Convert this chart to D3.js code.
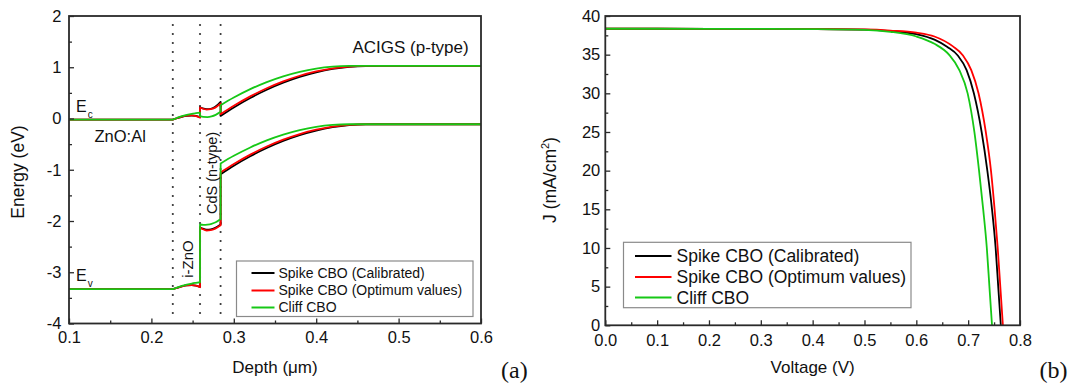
<!DOCTYPE html>
<html>
<head>
<meta charset="utf-8">
<script src="https://cdn.jsdelivr.net/npm/d3@7"></script>
<style>
  body { margin: 0; background: #fff; }
  svg { display: block; font-family: "Liberation Sans", Arial, sans-serif; }
</style>
</head>
<body>
<svg id="fig" width="1073" height="385"></svg>
<script>
// ---------- shared legend ----------
const seriesNames  = ["Spike CBO (Calibrated)", "Spike CBO (Optimum values)", "Cliff CBO"];
const seriesColors = ["#000000", "#ff0000", "#16c816"];

// ---------- (a) band diagram ----------
const depthTicks   = [0.1, 0.2, 0.3, 0.4, 0.5, 0.6];
const depthLabels  = ["0.1", "0.2", "0.3", "0.4", "0.5", "0.6"];
const depthMinor   = [0.15, 0.25, 0.35, 0.45, 0.55];
const energyTicks  = [-4, -3, -2, -1, 0, 1, 2];
const energyLabels = ["-4", "-3", "-2", "-1", "0", "1", "2"];
const energyMinor  = [-3.5, -2.5, -1.5, -0.5, 0.5, 1.5];
const interfaceDepths = [0.226, 0.259, 0.284];   // ZnO:Al | i-ZnO | CdS | ACIGS

// Each band edge is a list of layer segments: ZnO:Al, i-ZnO, CdS, ACIGS  ([depth µm, energy eV])
const ecCalibrated = [
  [[0.1, -0.02], [0.226, -0.02]],
  [[0.226, -0.02], [0.231, 0.005], [0.237, 0.033], [0.243, 0.052], [0.249, 0.058], [0.254, 0.05], [0.259, 0.025]],
  [[0.259, 0.22], [0.2625, 0.197], [0.267, 0.183], [0.272, 0.19], [0.2775, 0.228], [0.284, 0.325]],
  [[0.284, 0.05], [0.30, 0.216], [0.32, 0.401], [0.34, 0.562], [0.36, 0.699], [0.38, 0.812], [0.40, 0.901],
   [0.42, 0.967], [0.44, 1.008], [0.46, 1.024], [0.48, 1.025], [0.6, 1.025]]
];
const evCalibrated = [
  [[0.1, -3.33], [0.226, -3.33]],
  [[0.226, -3.33], [0.231, -3.305], [0.237, -3.277], [0.243, -3.258], [0.249, -3.252], [0.254, -3.26], [0.259, -3.285]],
  [[0.259, -2.12], [0.2625, -2.15], [0.267, -2.17], [0.272, -2.165], [0.2775, -2.135], [0.284, -2.07]],
  [[0.284, -1.087], [0.30, -0.921], [0.32, -0.736], [0.34, -0.575], [0.36, -0.438], [0.38, -0.325], [0.40, -0.236],
   [0.42, -0.17], [0.44, -0.129], [0.46, -0.113], [0.48, -0.112], [0.6, -0.112]]
];
const ecOptimum = [
  [[0.1, -0.02], [0.226, -0.02]],
  [[0.226, -0.02], [0.231, 0.005], [0.237, 0.035], [0.243, 0.055], [0.249, 0.06], [0.254, 0.048], [0.259, 0.018]],
  [[0.259, 0.215], [0.2625, 0.19], [0.267, 0.175], [0.272, 0.181], [0.2775, 0.212], [0.284, 0.295]],
  [[0.284, 0.085], [0.30, 0.249], [0.32, 0.432], [0.34, 0.59], [0.36, 0.724], [0.38, 0.834], [0.40, 0.918],
   [0.42, 0.978], [0.44, 1.014], [0.46, 1.025], [0.6, 1.025]]
];
const evOptimum = [
  [[0.1, -3.33], [0.226, -3.33]],
  [[0.226, -3.33], [0.231, -3.305], [0.237, -3.275], [0.243, -3.255], [0.249, -3.25], [0.254, -3.262], [0.259, -3.292]],
  [[0.259, -2.125], [0.2625, -2.16], [0.267, -2.185], [0.272, -2.18], [0.2775, -2.15], [0.284, -2.085]],
  [[0.284, -1.052], [0.30, -0.888], [0.32, -0.705], [0.34, -0.547], [0.36, -0.413], [0.38, -0.303], [0.40, -0.219],
   [0.42, -0.159], [0.44, -0.123], [0.46, -0.112], [0.6, -0.112]]
];
const ecCliff = [
  [[0.1, -0.02], [0.226, -0.02]],
  [[0.226, -0.02], [0.231, 0.01], [0.237, 0.045], [0.243, 0.07], [0.249, 0.09], [0.254, 0.103], [0.259, 0.115]],
  [[0.259, 0.045], [0.263, 0.03], [0.268, 0.028], [0.273, 0.04], [0.278, 0.07], [0.284, 0.13]],
  [[0.284, 0.26], [0.30, 0.409], [0.32, 0.572], [0.34, 0.711], [0.36, 0.824], [0.38, 0.912], [0.40, 0.975],
   [0.42, 1.012], [0.44, 1.025], [0.6, 1.025]]
];
const evCliff = [
  [[0.1, -3.33], [0.226, -3.33]],
  [[0.226, -3.33], [0.231, -3.30], [0.237, -3.265], [0.243, -3.24], [0.249, -3.22], [0.254, -3.207], [0.259, -3.195]],
  [[0.259, -2.065], [0.263, -2.075], [0.268, -2.07], [0.273, -2.055], [0.278, -2.025], [0.284, -1.96]],
  [[0.284, -0.877], [0.30, -0.728], [0.32, -0.565], [0.34, -0.426], [0.36, -0.313], [0.38, -0.225], [0.40, -0.162],
   [0.42, -0.125], [0.44, -0.112], [0.6, -0.112]]
];

// ---------- (b) J-V curves ----------
const voltageTicks  = [0, 0.1, 0.2, 0.3, 0.4, 0.5, 0.6, 0.7, 0.8];
const voltageLabels = ["0.0", "0.1", "0.2", "0.3", "0.4", "0.5", "0.6", "0.7", "0.8"];
const voltageMinor  = [0.05, 0.15, 0.25, 0.35, 0.45, 0.55, 0.65, 0.75];
const currentTicks  = [0, 5, 10, 15, 20, 25, 30, 35, 40];
const currentLabels = ["0", "5", "10", "15", "20", "25", "30", "35", "40"];
const currentMinor  = [2.5, 7.5, 12.5, 17.5, 22.5, 27.5, 32.5, 37.5];

// [voltage V, current density mA/cm²]
const jvCalibrated = [[0, 38.35], [0.1, 38.35], [0.2, 38.34], [0.3, 38.33], [0.4, 38.31], [0.5, 38.24], [0.55, 38.05],
  [0.6, 37.65], [0.635, 36.95], [0.66, 36.0], [0.68, 34.9], [0.697, 33.0], [0.711, 30.0], [0.726, 25.0],
  [0.737, 20.0], [0.746, 15.0], [0.753, 10.0], [0.758, 5.0], [0.763, 0]];
const jvOptimum = [[0, 38.35], [0.1, 38.35], [0.2, 38.34], [0.3, 38.33], [0.4, 38.32], [0.5, 38.26], [0.55, 38.12],
  [0.6, 37.85], [0.635, 37.35], [0.67, 36.1], [0.69, 34.9], [0.706, 33.0], [0.72, 30.0], [0.734, 25.0],
  [0.744, 20.0], [0.751, 15.0], [0.757, 10.0], [0.762, 5.0], [0.767, 0]];
const jvCliff = [[0, 38.35], [0.1, 38.35], [0.2, 38.34], [0.3, 38.33], [0.4, 38.3], [0.5, 38.2], [0.55, 37.95],
  [0.6, 37.35], [0.635, 36.4], [0.663, 35.0], [0.683, 33.0], [0.699, 30.0], [0.712, 25.0], [0.721, 20.0],
  [0.729, 15.0], [0.736, 10.0], [0.741, 5.0], [0.746, 0]];

// ---------- drawing ----------
const svg = d3.select("#fig");
const TICK_FONT = "16.5px";
const FRAME = "#2a2a2a";

function drawFrame(g, box) {
  g.append("rect")
    .attr("x", box.left).attr("y", box.top)
    .attr("width", box.right - box.left).attr("height", box.bottom - box.top)
    .attr("fill", "none").attr("stroke", FRAME).attr("stroke-width", 1.8);
}

function drawAxes(g, box, x, y, xt, xl, xm, yt, yl, ym, padX, padY) {
  const bottom = g.append("g").attr("transform", `translate(0,${box.bottom})`)
    .call(d3.axisBottom(x).tickValues(xt).tickFormat((d, i) => xl[i])
      .tickSizeInner(-5).tickSizeOuter(0).tickPadding(padX));
  const bottomMinor = g.append("g").attr("transform", `translate(0,${box.bottom})`)
    .call(d3.axisBottom(x).tickValues(xm).tickFormat("").tickSizeInner(-3).tickSizeOuter(0));
  const left = g.append("g").attr("transform", `translate(${box.left},0)`)
    .call(d3.axisLeft(y).tickValues(yt).tickFormat((d, i) => yl[i])
      .tickSizeInner(-5).tickSizeOuter(0).tickPadding(padY));
  const leftMinor = g.append("g").attr("transform", `translate(${box.left},0)`)
    .call(d3.axisLeft(y).tickValues(ym).tickFormat("").tickSizeInner(-3).tickSizeOuter(0));
  [bottom, bottomMinor, left, leftMinor].forEach(a => {
    a.select(".domain").remove();
    a.selectAll("line").attr("stroke", FRAME).attr("stroke-width", 1.3);
    a.selectAll("text").attr("fill", "#111").style("font-size", TICK_FONT)
      .style("font-family", '"Liberation Sans", Arial, sans-serif');
  });
}

function drawLegend(g, lg) {
  g.append("rect")
    .attr("x", lg.x0).attr("y", lg.y0).attr("width", lg.x1 - lg.x0).attr("height", lg.y1 - lg.y0)
    .attr("fill", "#fff").attr("stroke", "#8a8a8a").attr("stroke-width", 1.2);
  seriesNames.forEach((name, i) => {
    const cy = lg.rows[i];
    g.append("line").attr("x1", lg.lx0).attr("x2", lg.lx1).attr("y1", cy).attr("y2", cy)
      .attr("stroke", seriesColors[i]).attr("stroke-width", 2);
    g.append("text").attr("x", lg.tx).attr("y", cy).attr("dy", "0.35em")
      .style("font-size", lg.font).attr("fill", "#111").text(name);
  });
}

// ----- panel (a) -----
const A = { left: 69, right: 481, top: 16, bottom: 323.5 };
const xA = d3.scaleLinear().domain([0.1, 0.6]).range([A.left, A.right]);
const yA = d3.scaleLinear().domain([-4, 2]).range([A.bottom, A.top]);
const gA = svg.append("g");

// layer interfaces
interfaceDepths.forEach(d => {
  gA.append("line")
    .attr("x1", xA(d)).attr("x2", xA(d)).attr("y1", A.top + 9).attr("y2", A.bottom - 4)
    .attr("stroke", "#333").attr("stroke-width", 2.2)
    .attr("stroke-linecap", "round").attr("stroke-dasharray", "0 9");
});

const bandLine = d3.line().x(d => xA(d[0])).y(d => yA(d[1])).curve(d3.curveMonotoneX);
function layeredPath(segments) {
  // consecutive layers joined by straight steps at the interfaces
  return segments.map((s, i) => { const d = bandLine(s); return i ? "L" + d.slice(1) : d; }).join("");
}
const ecSeries = [ecCalibrated, ecOptimum, ecCliff];
const evSeries = [evCalibrated, evOptimum, evCliff];
seriesNames.forEach((_, i) => {
  [ecSeries[i], evSeries[i]].forEach(band => {
    gA.append("path").attr("d", layeredPath(band))
      .attr("fill", "none").attr("stroke", seriesColors[i]).attr("stroke-width", 1.8)
      .attr("stroke-linejoin", "round");
  });
});

drawAxes(gA, A, xA, yA, depthTicks, depthLabels, depthMinor, energyTicks, energyLabels, energyMinor, 8, 7.5);
drawFrame(gA, A);

// region labels
gA.append("text").attr("x", 352.5).attr("y", 53).style("font-size", "17px").attr("fill", "#111").text("ACIGS (p-type)");
gA.append("text").attr("x", 94.5).attr("y", 142.3).style("font-size", "16.5px").attr("fill", "#111").text("ZnO:Al");
const ec = gA.append("text").attr("x", 76).attr("y", 112.3).style("font-size", "16px").attr("fill", "#111");
ec.append("tspan").text("E");
ec.append("tspan").attr("dx", 1).attr("dy", 5.5).style("font-size", "10px").text("c");
const ev = gA.append("text").attr("x", 76).attr("y", 281).style("font-size", "16px").attr("fill", "#111");
ev.append("tspan").text("E");
ev.append("tspan").attr("dx", 1).attr("dy", 6).style("font-size", "10px").text("v");
gA.append("text").attr("transform", "translate(192.5,259) rotate(-90)").attr("text-anchor", "middle")
  .style("font-size", "15px").attr("fill", "#111").text("i-ZnO");
gA.append("text").attr("transform", "translate(217,173) rotate(-90)").attr("text-anchor", "middle")
  .style("font-size", "14.5px").attr("fill", "#111").text("CdS (n-type)");

drawLegend(gA, { x0: 236.5, x1: 473, y0: 261, y1: 316.5, rows: [273, 290.5, 307.5],
                 lx0: 251.5, lx1: 274.5, tx: 278.5, font: "14px" });

gA.append("text").attr("transform", "translate(24,172) rotate(-90)").attr("text-anchor", "middle")
  .style("font-size", "17.5px").attr("fill", "#111").text("Energy (eV)");
gA.append("text").attr("x", (A.left + A.right) / 2).attr("y", 373).attr("text-anchor", "middle")
  .style("font-size", "17px").attr("fill", "#111").text("Depth (μm)");
gA.append("text").attr("x", 501).attr("y", 378).style("font-family", '"Liberation Serif", "Times New Roman", serif')
  .style("font-size", "24px").attr("fill", "#111").text("(a)");

// ----- panel (b) -----
const B = { left: 605.3, right: 1020, top: 16, bottom: 325.3 };
const xB = d3.scaleLinear().domain([0, 0.8]).range([B.left, B.right]);
const yB = d3.scaleLinear().domain([0, 40]).range([B.bottom, B.top]);
const gB = svg.append("g");

const jvLine = d3.line().x(d => xB(d[0])).y(d => yB(d[1])).curve(d3.curveMonotoneX);
[jvCalibrated, jvOptimum, jvCliff].forEach((s, i) => {
  gB.append("path").attr("d", jvLine(s)).attr("fill", "none")
    .attr("stroke", seriesColors[i]).attr("stroke-width", 1.8);
});

drawAxes(gB, B, xB, yB, voltageTicks, voltageLabels, voltageMinor, currentTicks, currentLabels, currentMinor, 9, 5);
drawFrame(gB, B);

drawLegend(gB, { x0: 623.5, x1: 911, y0: 242.3, y1: 307.7, rows: [256, 277, 297.5],
                 lx0: 635, lx1: 671.5, tx: 676.5, font: "17.5px" });

const jl = gB.append("text").attr("transform", "translate(556,180) rotate(-90)").attr("text-anchor", "middle")
  .style("font-size", "17.5px").attr("fill", "#111");
jl.append("tspan").text("J (mA/cm");
jl.append("tspan").attr("dy", -7).style("font-size", "11px").text("2");
jl.append("tspan").attr("dy", 7).text(")");
gB.append("text").attr("x", (B.left + B.right) / 2).attr("y", 373).attr("text-anchor", "middle")
  .style("font-size", "17px").attr("fill", "#111").text("Voltage (V)");
gB.append("text").attr("x", 1039.5).attr("y", 378).style("font-family", '"Liberation Serif", "Times New Roman", serif')
  .style("font-size", "24px").attr("fill", "#111").text("(b)");
</script>
</body>
</html>
